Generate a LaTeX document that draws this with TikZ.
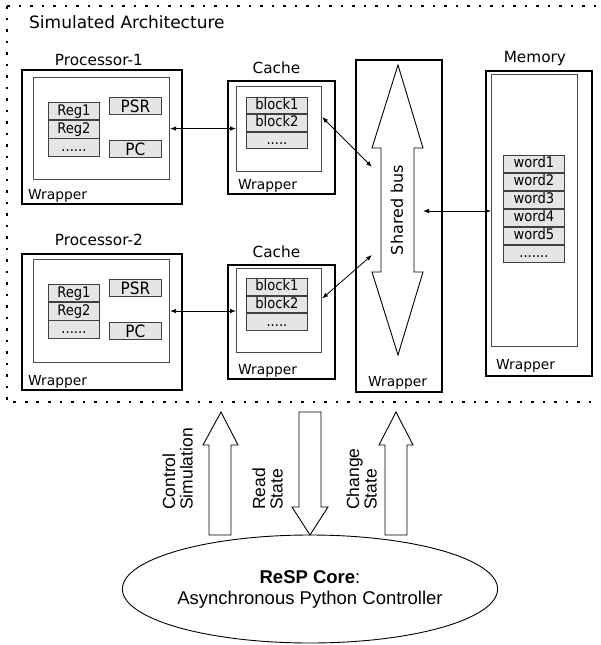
\documentclass[tikz,border=0pt]{standalone}
\usepackage{fontspec}
\setmainfont{DejaVu Sans}
\newfontfamily\cellfont{DejaVu Sans Condensed}
\newfontfamily\corefont{Liberation Sans}
\usetikzlibrary{arrows.meta,positioning,shapes.geometric}

\tikzset{
  wrapper/.style={draw,line width=1.8pt,anchor=north west,inner sep=0pt},
  module/.style={draw=black!70,line width=1.1pt,anchor=north west,inner sep=0pt},
  cell/.style={draw=black!75,fill=black!10,line width=0.9pt,inner sep=0pt,
    minimum width=51pt,minimum height=17.3pt,text height=10.6pt,text depth=2.6pt,
    font=\cellfont\fontsize{14.6}{14.6}\selectfont},
  reg/.style={cell,minimum width=52pt,minimum height=17pt,text height=12.3pt,text depth=0pt,
    font=\cellfont\fontsize{17}{17}\selectfont},
  title/.style={inner sep=0pt,anchor=base,font=\fontsize{15.3}{16}\selectfont},
  wraplbl/.style={inner sep=0pt,anchor=base west,font=\fontsize{13.8}{14}\selectfont},
  link/.style={line width=0.8pt,{Latex[length=6pt,width=4.5pt]}-{Latex[length=6pt,width=4.5pt]}},
  blockarrow/.style={draw,line width=0.9pt,fill=white,line join=miter},
  vlabel/.style={rotate=90,align=left,inner sep=0pt,anchor=south west,
    font=\corefont\fontsize{17.5}{17.5}\selectfont}
}

\begin{document}
\begin{tikzpicture}[x=1pt,y=-1pt]
  \useasboundingbox (0,0) rectangle (600,645);
  \clip (0,0) rectangle (600,645);

  % dotted frame, open to the right
  \draw[line width=2.6pt,dash pattern=on 2.6pt off 8.9pt] (7,6) -- (598,6);
  \draw[line width=2.6pt,dash pattern=on 2.6pt off 8.9pt] (7,6) -- (7,402) -- (598,402);
  \node[anchor=base west,inner sep=0pt,font=\fontsize{17}{18}\selectfont] (simlbl) at (29,28) {Simulated Architecture};

  % processor 1
  \node[wrapper,minimum width=160pt,minimum height=134pt] (proc1) at (21,69) {};
  \node[module,minimum width=136pt,minimum height=102pt] (proc1in) at (33,77) {};
  \node[title] (proc1lbl) at ([xshift=-3pt,yshift=4pt]proc1.north) {Processor-1};
  \node[wraplbl] (proc1wrap) at ([shift={(7pt,5pt)}]proc1.south west) {Wrapper};
  \node[cell,anchor=north west] (p1reg1) at (48,102) {Reg1};
  \node[cell,below=0pt of p1reg1] (p1reg2) {Reg2};
  \node[cell,below=0pt of p1reg2] (p1regs) {......};
  \node[reg,anchor=north west] (p1psr) at (109,97) {PSR};
  \node[reg,anchor=north west] (p1pc) at (109,140) {PC};

  % cache 1
  \node[wrapper,minimum width=107pt,minimum height=113pt] (cache1) at (227,80) {};
  \node[module,minimum width=85pt,minimum height=85pt] (cache1in) at (236,86) {};
  \node[title] (cache1lbl) at ([xshift=-5pt,yshift=7pt]cache1.north) {Cache};
  \node[wraplbl] (cache1wrap) at ([shift={(11pt,5pt)}]cache1.south west) {Wrapper};
  \node[cell,minimum width=61pt,minimum height=16.4pt,anchor=north west] (c1blk1) at (246,97) {block1};
  \node[cell,minimum width=61pt,minimum height=16.4pt,below=0pt of c1blk1] (c1blk2) {block2};
  \node[cell,minimum width=61pt,minimum height=16.4pt,below=0pt of c1blk2] (c1blks) {.....};

  % processor 2
  \node[wrapper,minimum width=160pt,minimum height=136pt] (proc2) at (21,253) {};
  \node[module,minimum width=136pt,minimum height=103pt] (proc2in) at (33,259) {};
  \node[title] (proc2lbl) at ([xshift=-3pt,yshift=8pt]proc2.north) {Processor-2};
  \node[wraplbl] (proc2wrap) at ([shift={(7pt,5pt)}]proc2.south west) {Wrapper};
  \node[cell,anchor=north west] (p2reg1) at (48,284) {Reg1};
  \node[cell,below=0pt of p2reg1] (p2reg2) {Reg2};
  \node[cell,below=0pt of p2reg2] (p2regs) {......};
  \node[reg,anchor=north west] (p2psr) at (109,279) {PSR};
  \node[reg,anchor=north west] (p2pc) at (109,322) {PC};

  % cache 2
  \node[wrapper,minimum width=107pt,minimum height=114pt] (cache2) at (227,264) {};
  \node[module,minimum width=85pt,minimum height=84pt] (cache2in) at (236,268) {};
  \node[title] (cache2lbl) at ([xshift=-5pt,yshift=7pt]cache2.north) {Cache};
  \node[wraplbl] (cache2wrap) at ([shift={(11pt,5pt)}]cache2.south west) {Wrapper};
  \node[cell,minimum width=61pt,minimum height=16.7pt,anchor=north west] (c2blk1) at (246,278) {block1};
  \node[cell,minimum width=61pt,minimum height=16.7pt,below=0pt of c2blk1] (c2blk2) {block2};
  \node[cell,minimum width=61pt,minimum height=16.7pt,below=0pt of c2blk2] (c2blks) {.....};

  % shared bus
  \node[wrapper,minimum width=86pt,minimum height=332pt] (busbox) at (355,59) {};
  \draw[line width=0.9pt,line join=miter] (398,65) -- (423,148) -- (414,148) -- (414,272) -- (423,272)
    -- (398,355) -- (372,272) -- (381,272) -- (381,148) -- (372,148) -- cycle;
  \node[rotate=90,inner sep=0pt,font=\fontsize{16}{16}\selectfont] (buslbl) at (397,210) {Shared bus};
  \node[wraplbl] (buswrap) at ([shift={(13pt,6pt)}]busbox.south west) {Wrapper};
  \coordinate (busin1) at (372,167);
  \coordinate (busin2) at (372,255);
  \coordinate (busout) at (423,211);

  % memory
  \node[wrapper,minimum width=106pt,minimum height=305pt] (mem) at (485,70) {};
  \node[module,minimum width=86pt,minimum height=272pt] (memin) at (491,74) {};
  \node[title] (memlbl) at ([xshift=-4pt,yshift=8pt]mem.north) {Memory};
  \node[wraplbl] (memwrap) at ([shift={(11pt,7pt)}]mem.south west) {Wrapper};
  \node[cell,minimum width=61pt,minimum height=17pt,anchor=north west] (word1) at (503,155) {word1};
  \node[cell,minimum width=61pt,minimum height=17pt,below=0pt of word1] (word2) {word2};
  \node[cell,minimum width=61pt,minimum height=17pt,below=0pt of word2] (word3) {word3};
  \node[cell,minimum width=61pt,minimum height=17pt,below=0pt of word3] (word4) {word4};
  \node[cell,minimum width=61pt,minimum height=17pt,below=0pt of word4] (word5) {word5};
  \node[cell,minimum width=61pt,minimum height=17pt,below=0pt of word5] (words) {.......};

  % links
  \draw[link] (proc1in.east) -- (proc1in.east -| cache1in.west);
  \draw[link] ([yshift=12pt]cache1in.east) -- (busin1);
  \draw[link] (proc2in.east) -- (proc2in.east -| cache2in.west);
  \draw[link] ([yshift=12pt]cache2in.east) -- (busin2);
  \draw[link] (busout) -- (busout -| memin.west);

  % controller side
  \draw[blockarrow] (221,412) -- (238,445) -- (231,445) -- (231,535) -- (209,535) -- (209,445) -- (203,445) -- cycle;
  \draw[blockarrow] (299,412) -- (321,412) -- (321,507) -- (328,507) -- (310,535) -- (292,507) -- (299,507) -- cycle;
  \draw[blockarrow] (396,412) -- (413,445) -- (407,445) -- (407,535) -- (385,535) -- (385,445) -- (379,445) -- cycle;
  \node[vlabel] (ctrllbl) at (193,510) {Control\\Simulation};
  \node[vlabel] (readlbl) at (283,510) {Read\\State};
  \node[vlabel] (chglbl) at (377,510) {Change\\State};

  \node[draw,ellipse,line width=0.9pt,minimum width=366pt,minimum height=108pt,inner sep=0pt,
    align=center,font=\corefont\fontsize{18.5}{21}\selectfont] (core) at (310,589)
    {\textbf{ReSP Core}:\\Asynchronous Python Controller};
\end{tikzpicture}
\end{document}
